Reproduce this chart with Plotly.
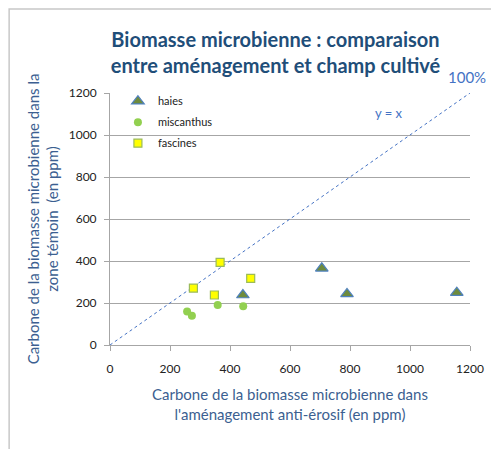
import plotly.graph_objects as go

haies_x = [443, 706, 790, 1156]
haies_y = [238, 365, 243, 249]
misc_x = [257, 273, 359, 444]
misc_y = [159, 139, 190, 185]
fasc_x = [278, 348, 367, 469]
fasc_y = [271, 238, 393, 317]
diag = [0, 1200]
ticks = [0, 200, 400, 600, 800, 1000, 1200]

FONT = "Lato"
fig = go.Figure()
fig.add_trace(go.Scatter(x=diag, y=diag, mode="lines", showlegend=False, hoverinfo="skip",
                         line=dict(color="#4472C4", width=1, dash="3px,3px")))
fig.add_trace(go.Scatter(x=haies_x, y=haies_y, mode="markers", name="haies", legendgroup="a",
                         marker=dict(symbol="triangle-up", size=11, color="#6E8B3D",
                                     line=dict(color="#4F81BD", width=1.2))))
fig.add_trace(go.Scatter(x=misc_x, y=misc_y, mode="markers", name="miscanthus", legendgroup="b",
                         marker=dict(symbol="circle", size=8, color="#92D050",
                                     line=dict(color="#92D050", width=0))))
fig.add_trace(go.Scatter(x=fasc_x, y=fasc_y, mode="markers", name="fascines", legendgroup="c",
                         marker=dict(symbol="square", size=8, color="#FFFF00",
                                     line=dict(color="#9BBB59", width=1.2))))

W, H = 491, 441
fig.update_layout(
    width=W, height=H,
    margin=dict(l=102, r=29, t=85, b=104),
    paper_bgcolor="white", plot_bgcolor="white",
    font=dict(family=FONT, color="#222222"),
    title=dict(text="<b>Biomasse microbienne : comparaison<br>entre aménagement et champ cultivé</b>",
               x=267.5 / W, xanchor="center", y=1 - 38.5 / H, yanchor="middle",
               font=dict(family=FONT, size=20, color="#1F4E79")),
    xaxis=dict(range=[0, 1200], tickvals=ticks, showgrid=False, zeroline=False, automargin=False,
               showline=True, linecolor="#A6A6A6", linewidth=1,
               ticks="outside", ticklen=5, tickcolor="#A6A6A6", ticklabelstandoff=8,
               tickfont=dict(size=12, color="#222222", family=FONT),
               title=dict(text="Carbone de la biomasse microbienne dans<br>l'aménagement anti-érosif (en ppm)",
                          font=dict(size=15, color="#3C5F91", family=FONT), standoff=14)),
    yaxis=dict(range=[0, 1200], tickvals=ticks, showgrid=True, gridcolor="#A6A6A6", gridwidth=1,
               zeroline=False, showline=True, linecolor="#A6A6A6", linewidth=1, automargin=False,
               ticks="outside", ticklen=5, tickcolor="#A6A6A6", ticklabelstandoff=5,
               tickfont=dict(size=12, color="#222222", family=FONT),
               title=dict(text="Carbone de la biomasse microbienne dans la<br>zone témoin  (en ppm)",
                          font=dict(size=15, color="#3C5F91", family=FONT), standoff=6)),
    legend=dict(x=0.022, y=1.025, xanchor="left", yanchor="top", bgcolor="rgba(0,0,0,0)",
                font=dict(size=11, family=FONT, color="#222222"), itemwidth=30, tracegroupgap=2),
    showlegend=True,
    shapes=[dict(type="rect", xref="paper", yref="paper",
                 x0=-101 / 360.5, x1=1.3, y0=-0.6, y1=1 + 84 / 252,
                 line=dict(color="#C8C8C8", width=1.5), fillcolor="rgba(0,0,0,0)", layer="below")],
    annotations=[
        dict(x=929, y=1105, xref="x", yref="y", text="y = x", showarrow=False,
             xanchor="center", yanchor="middle",
             font=dict(size=13, color="#4472C4", family=FONT)),
        dict(x=1 - 3.5 / 360.5, y=1 + 16 / 252, xref="paper", yref="paper", text="100%", showarrow=False,
             xanchor="center", yanchor="middle",
             font=dict(size=15, color="#4472C4", family=FONT)),
    ],
)
fig.write_html("out.html")
